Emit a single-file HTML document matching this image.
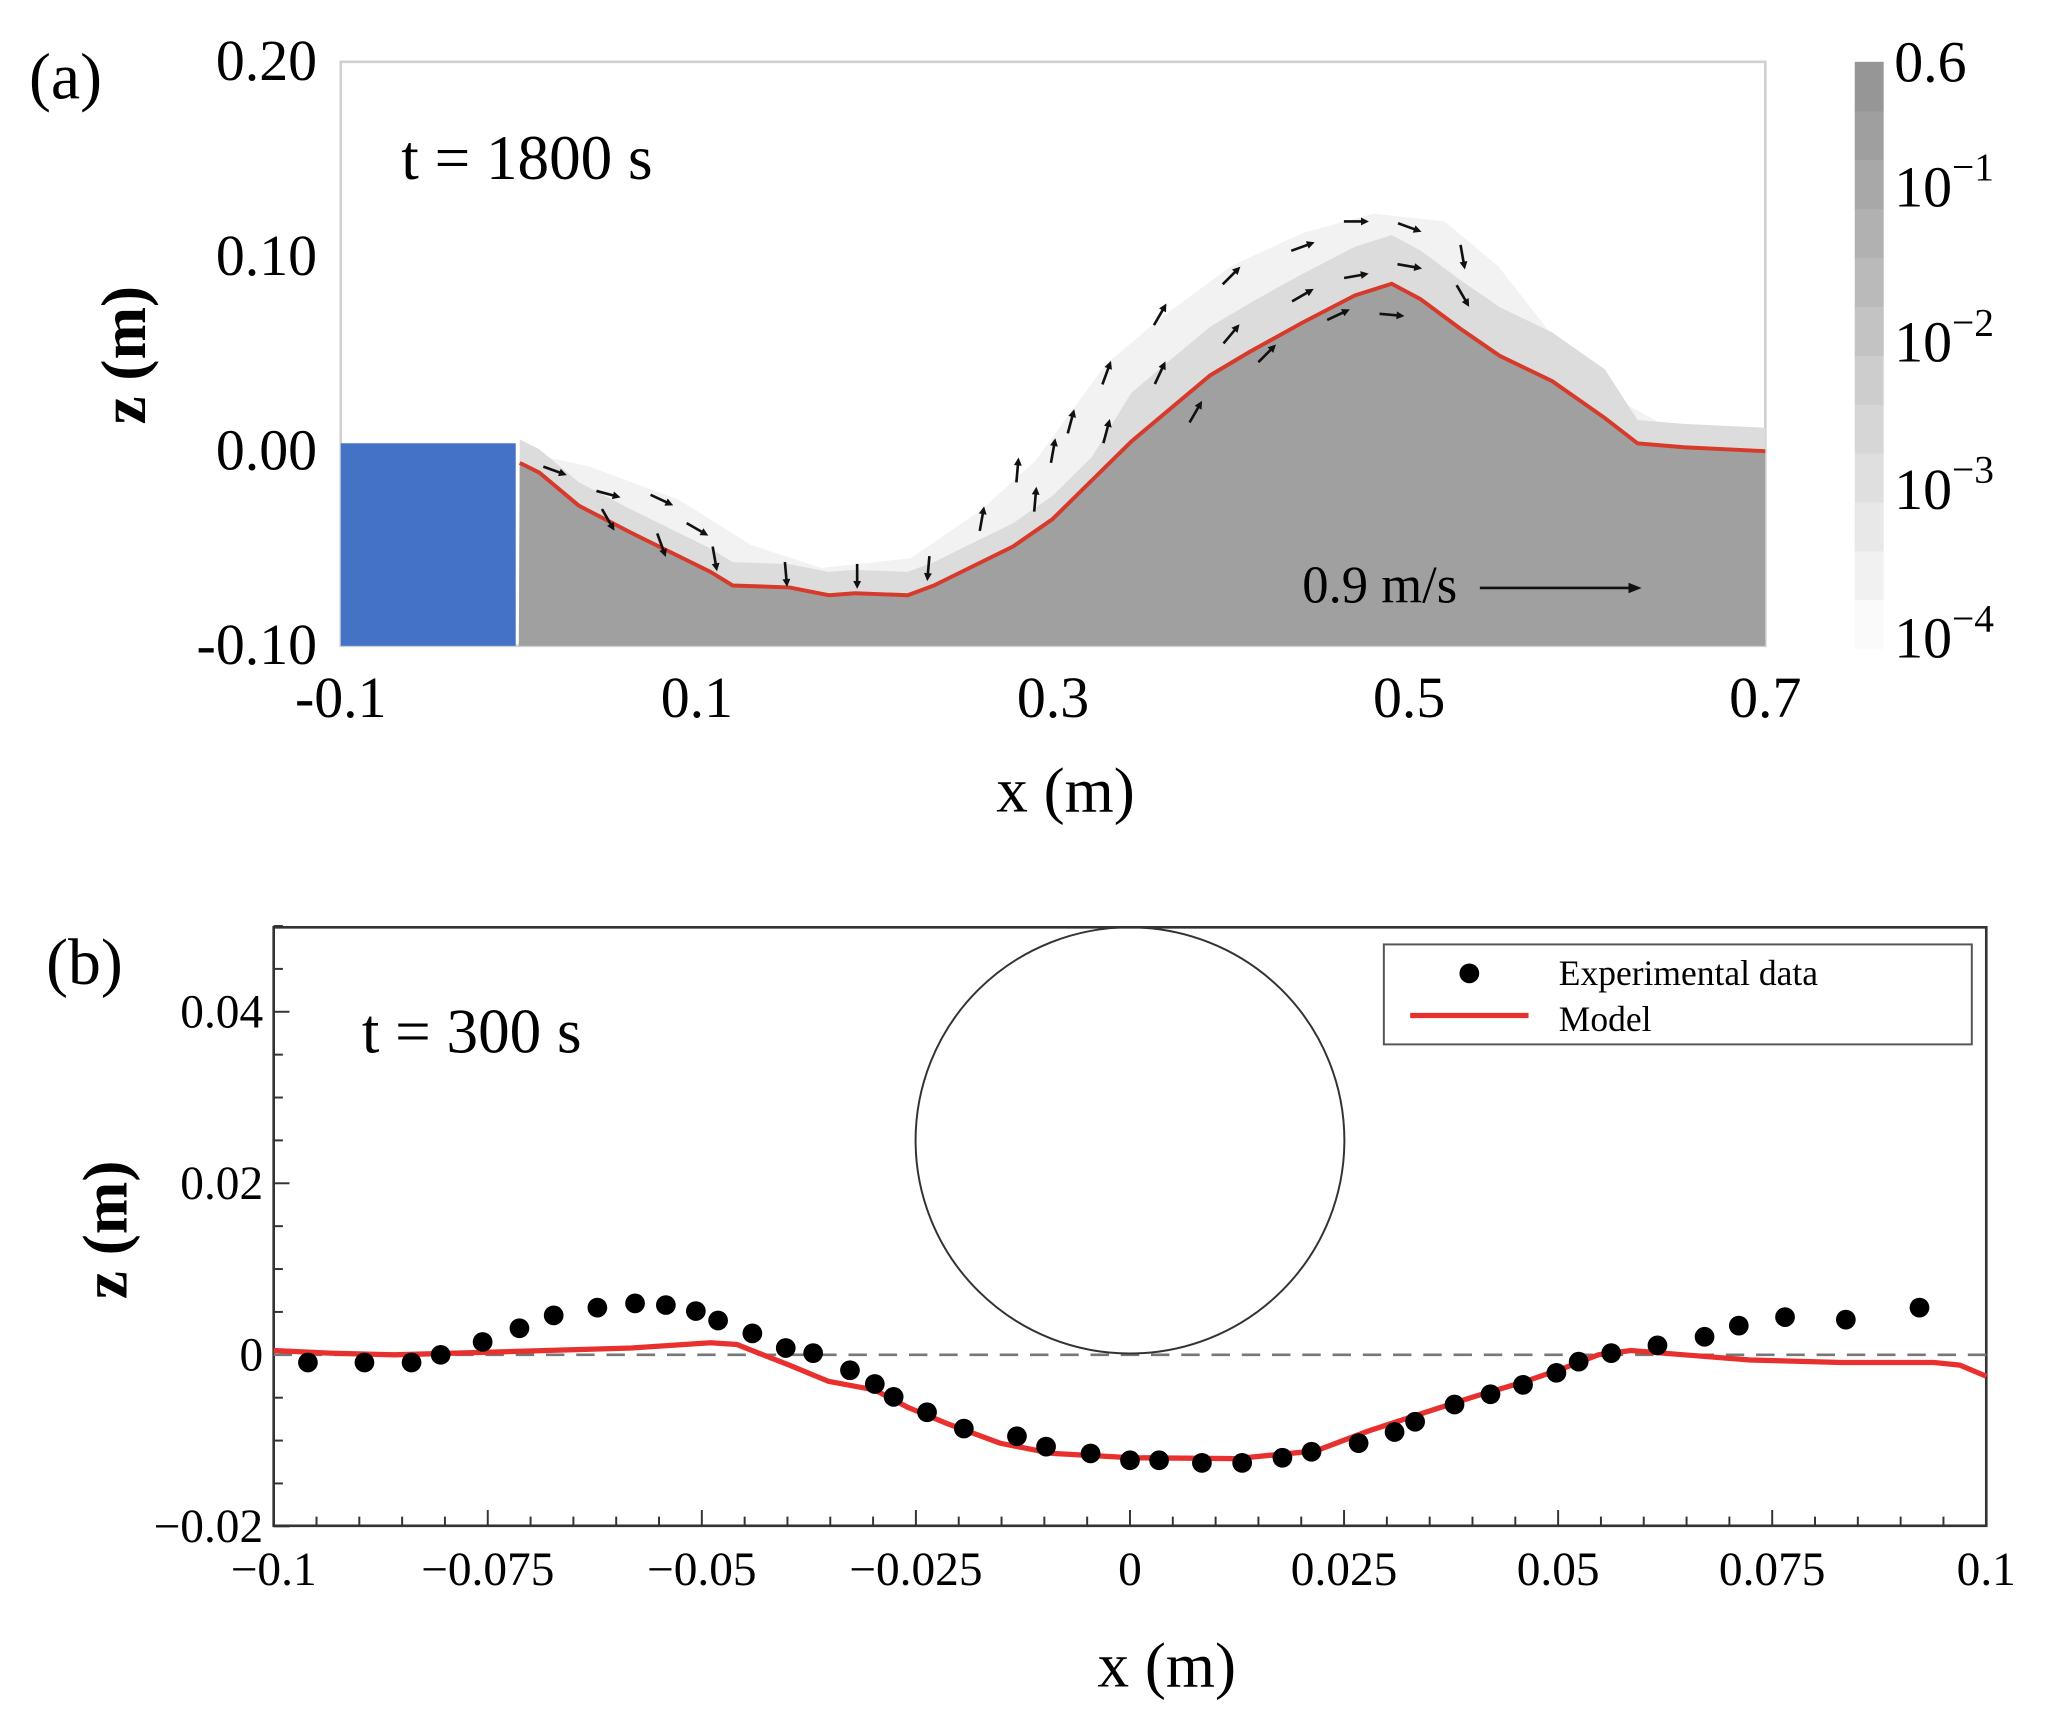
<!DOCTYPE html>
<html><head><meta charset="utf-8"><style>
html,body{margin:0;padding:0;background:#fff;}
svg{display:block;font-family:"Liberation Serif",serif;}
</style></head><body>
<svg id="fig" width="2062" height="1731" viewBox="0 0 1567.5 1316" xmlns="http://www.w3.org/2000/svg">
<g id="pa"></g>
<g id="pb"></g>
</svg>
<script>
// ---------- Panel (a) data ----------
const bedX = [0.0005,0.0115,0.0337,0.0632,0.0854,0.1076,0.1201,0.1519,0.1741,0.1888,0.2184,0.2331,0.2553,0.2775,0.2996,0.3218,0.3440,0.3661,0.3883,0.4104,0.4400,0.4695,0.4902,0.5065,0.5286,0.5508,0.5803,0.6099,0.6283,0.6542,0.7000];
const bedZ = [-0.006,-0.011,-0.028,-0.042,-0.052,-0.062,-0.069,-0.070,-0.074,-0.073,-0.074,-0.069,-0.059,-0.049,-0.035,-0.015,0.005,0.022,0.039,0.051,0.066,0.080,0.086,0.078,0.063,0.049,0.036,0.017,0.004,0.002,0.000];
const haloX = [0.0005,0.04,0.09,0.13,0.17,0.22,0.26,0.29,0.31,0.33,0.36,0.40,0.44,0.48,0.52,0.55,0.58,0.62,0.66,0.70];
const haloZ = [0.000,-0.008,-0.025,-0.048,-0.060,-0.055,-0.030,-0.005,0.020,0.045,0.068,0.095,0.112,0.122,0.118,0.095,0.060,0.025,0.005,0.002];
const arrowX = [0.02,0.05,0.08,0.10,0.05,0.08,0.11,0.15,0.19,0.23,0.26,0.29,0.30,0.33,0.33,0.36,0.36,0.40,0.40,0.44,0.44,0.47,0.47,0.50,0.50,0.53,0.53,0.28,0.31,0.38,0.42,0.46,0.49];
const arrowZ = [-0.010,-0.022,-0.025,-0.040,-0.035,-0.048,-0.055,-0.063,-0.064,-0.060,-0.035,-0.025,0.000,0.010,0.040,0.040,0.070,0.060,0.090,0.080,0.105,0.090,0.118,0.095,0.115,0.080,0.100,-0.010,0.015,0.020,0.050,0.070,0.070];
const arrowAng = [20,15,25,30,60,70,80,85,90,95,-80,-85,-80,-75,-70,-65,-60,-50,-45,-30,-20,-10,0,10,20,60,80,-85,-75,-60,-45,-25,5];
const aXTicks = [-0.1,0.1,0.3,0.5,0.7];
const aXLabels = ["-0.1","0.1","0.3","0.5","0.7"];
const aYTicks = [0.20,0.10,0.00,-0.10];
const aYLabels = ["0.20","0.10","0.00","-0.10"];
const cbLabels = ["0.6","10","10","10","10"];
const cbExps = ["","\u22121","\u22122","\u22123","\u22124"];

// ---------- Panel (b) data ----------
const expX = [-0.0960,-0.0894,-0.0839,-0.0805,-0.0756,-0.0713,-0.0673,-0.0622,-0.0578,-0.0542,-0.0507,-0.0481,-0.0441,-0.0402,-0.0370,-0.0327,-0.0298,-0.0276,-0.0237,-0.0194,-0.0132,-0.0098,-0.0046,0.0000,0.0034,0.0084,0.0131,0.0178,0.0212,0.0267,0.0309,0.0333,0.0379,0.0421,0.0459,0.0498,0.0524,0.0562,0.0616,0.0671,0.0711,0.0765,0.0836,0.0922];
const expZ = [-0.0009,-0.0009,-0.0009,0.0000,0.0015,0.0031,0.0046,0.0055,0.0060,0.0058,0.0051,0.0040,0.0025,0.0008,0.0002,-0.0018,-0.0034,-0.0049,-0.0067,-0.0086,-0.0095,-0.0107,-0.0115,-0.0123,-0.0123,-0.0126,-0.0126,-0.0120,-0.0113,-0.0103,-0.0090,-0.0078,-0.0058,-0.0046,-0.0035,-0.0021,-0.0008,0.0002,0.0011,0.0021,0.0034,0.0044,0.0041,0.0055];
const modX = [-0.1000,-0.0935,-0.0859,-0.0751,-0.0582,-0.0490,-0.0459,-0.0398,-0.0352,-0.0298,-0.0260,-0.0214,-0.0152,-0.0091,0.0002,0.0124,0.0217,0.0278,0.0339,0.0401,0.0462,0.0508,0.0547,0.0585,0.0647,0.0724,0.0831,0.0939,0.0969,0.1000];
const modZ = [0.0005,0.0002,0.0000,0.0003,0.0008,0.0014,0.0012,-0.0012,-0.0031,-0.0041,-0.0061,-0.0080,-0.0103,-0.0115,-0.0120,-0.0121,-0.0112,-0.0089,-0.0069,-0.0049,-0.0031,-0.0015,0.0000,0.0005,0.0000,-0.0006,-0.0009,-0.0009,-0.0012,-0.0025];
const bXTicks = [-0.1,-0.075,-0.05,-0.025,0,0.025,0.05,0.075,0.1];
const bXLabels = ["\u22120.1","\u22120.075","\u22120.05","\u22120.025","0","0.025","0.05","0.075","0.1"];
const bYTicks = [0.04,0.02,0,-0.02];
const bYLabels = ["0.04","0.02","0","\u22120.02"];

const NS="http://www.w3.org/2000/svg";
function mk(parent,tag,attrs,text){const e=document.createElementNS(NS,tag);for(const k in attrs)e.setAttribute(k,attrs[k]);if(text!==undefined)e.textContent=text;parent.appendChild(e);return e;}

// ===== Panel a =====
const pa=document.getElementById('pa');
const ax=v=>259+(v+0.1)*(1083/0.8);
const ay=v=>343-v*1480;
let e;
e=mk(pa,'rect',{x:259,y:47,width:1083,height:444,fill:'#fff',stroke:'#d0d0d0','stroke-width':2});

let hp=`M${ax(haloX[0])},${ay(haloZ[0])}`;haloX.forEach((x,i)=>hp+=` L${ax(x)},${ay(haloZ[i])}`);hp+=` L${ax(0.7)},491 L${ax(0)},491 Z`;
e=mk(pa,'path',{d:hp,fill:'#f2f2f2'});

let hp2=`M${ax(bedX[0])},${ay(bedZ[0]+0.005)}`;bedX.forEach((x,i)=>hp2+=` L${ax(x)},${ay(bedZ[i]+(x>0.33&&x<0.62?0.025:0.012))}`);hp2+=` L${ax(0.7)},491 L${ax(0)},491 Z`;
e=mk(pa,'path',{d:hp2,fill:'#dcdcdc'});

let bp=`M${ax(bedX[0])},${ay(bedZ[0])}`;bedX.forEach((x,i)=>bp+=` L${ax(x)},${ay(bedZ[i])}`);
e=mk(pa,'path',{d:bp+` L${ax(0.7)},491 L${ax(0)},491 Z`,fill:'#a0a0a0'});

e=mk(pa,'path',{d:bp,fill:'none',stroke:'#d63a2a','stroke-width':3});

arrowX.forEach((x,i)=>{const cx=ax(x),cy=ay(arrowZ[i]);const g=mk(pa,'g',{transform:`translate(${cx},${cy}) rotate(${arrowAng[i]})`});

mk(g,'line',{x1:-9,y1:0,x2:7,y2:0,stroke:'#111','stroke-width':2});mk(g,'path',{d:'M10,0 L4,-3 L4,3 Z',fill:'#111'});});
e=mk(pa,'rect',{x:259,y:337,width:133,height:154,fill:'#4472c4'});

e=mk(pa,'text',{x:990,y:458,'font-size':40},'0.9 m/s');

mk(pa,'line',{x1:1125,y1:447,x2:1240,y2:447,stroke:'#111','stroke-width':2});mk(pa,'path',{d:'M1248,447 L1238,443 L1238,451 Z',fill:'#111'});
aXTicks.forEach((v,i)=>{e=mk(pa,'text',{x:ax(v),y:545,'font-size':44,'text-anchor':'middle'},aXLabels[i]);});
aYTicks.forEach((v,i)=>{e=mk(pa,'text',{x:241,y:ay(v)+14,'font-size':44,'text-anchor':'end'},aYLabels[i]);});
e=mk(pa,'text',{x:810,y:617,'font-size':48,'text-anchor':'middle'},'x (m)');
e=mk(pa,'text',{x:0,y:0,'font-size':48,'font-weight':'bold','text-anchor':'middle',transform:'translate(110,270) rotate(-90)'},'z (m)');
e=mk(pa,'text',{x:22,y:75,'font-size':50},'(a)');
e=mk(pa,'text',{x:305,y:136,'font-size':48},'t = 1800 s');
const nb=12;for(let i=0;i<nb;i++){const t=i/(nb-1);const c=Math.round(250-t*(250-150));
e=mk(pa,'rect',{x:1410,y:493-(i+1)*(446/nb),width:22,height:446/nb+0.5,fill:`rgb(${c},${c},${c})`});}
cbLabels.forEach((l,i)=>{const y=[62,157,275,387,500][i];e=mk(pa,'text',{x:1440,y:y,'font-size':44},l);
if(cbExps[i]){mk(e,'tspan',{dy:-20,'font-size':30},cbExps[i]);}
});

// ===== Panel b =====
const pb=document.getElementById('pb');
const bx=v=>859+v*6510;
const by=v=>1030-v*6520;
e=mk(pb,'rect',{x:208,y:705,width:1302,height:455,fill:'none',stroke:'#333','stroke-width':2});

for(let k=-20;k<=20;k++){const v=k*0.005;const big=k%5===0;mk(pb,'line',{x1:bx(v),y1:1160,x2:bx(v),y2:1160-(big?12:7),stroke:'#333','stroke-width':1.5});}
for(let k=-4;k<=10;k++){const v=k*0.005;const big=k%4===0;mk(pb,'line',{x1:208,y1:by(v),x2:208+(big?12:7),y2:by(v),stroke:'#333','stroke-width':1.5});}
e=mk(pb,'line',{x1:208,y1:by(0),x2:1510,y2:by(0),stroke:'#777','stroke-width':2,'stroke-dasharray':'14,9'});

e=mk(pb,'ellipse',{cx:bx(0),cy:by(0.025),rx:163,ry:162,fill:'none',stroke:'#333','stroke-width':1.5});

let mp='';modX.forEach((x,i)=>mp+=(i?' L':'M')+bx(x)+','+by(modZ[i]));
e=mk(pb,'path',{d:mp,fill:'none',stroke:'#e8312e','stroke-width':4});

expX.forEach((x,i)=>{e=mk(pb,'circle',{cx:bx(x),cy:by(expZ[i]),r:7.5,fill:'#000'});
});
bXTicks.forEach((v,i)=>{e=mk(pb,'text',{x:bx(v),y:1205,'font-size':36,'text-anchor':'middle'},bXLabels[i]);});
bYTicks.forEach((v,i)=>{e=mk(pb,'text',{x:200,y:by(v)+12,'font-size':36,'text-anchor':'end'},bYLabels[i]);});
e=mk(pb,'text',{x:887,y:1282,'font-size':48,'text-anchor':'middle'},'x (m)');
e=mk(pb,'text',{x:0,y:0,'font-size':48,'font-weight':'bold','text-anchor':'middle',transform:'translate(96,935) rotate(-90)'},'z (m)');
e=mk(pb,'text',{x:35,y:748,'font-size':50},'(b)');
e=mk(pb,'text',{x:275,y:800,'font-size':48},'t = 300 s');
const lg=mk(pb,'g',{});
mk(lg,'rect',{x:1052,y:718,width:447,height:76,fill:'#fff',stroke:'#555','stroke-width':1.5});
e=mk(lg,'circle',{cx:1117,cy:740,r:7.5,fill:'#000'});
e=mk(lg,'line',{x1:1072,y1:772,x2:1162,y2:772,stroke:'#e8312e','stroke-width':4});
e=mk(lg,'text',{x:1185,y:749,'font-size':27},'Experimental data');
e=mk(lg,'text',{x:1185,y:784,'font-size':27},'Model');
</script>
</body></html>
